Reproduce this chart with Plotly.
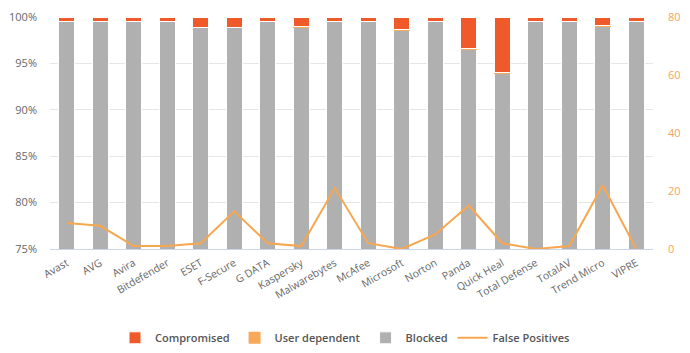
import plotly.graph_objects as go

vendors = ["Avast", "AVG", "Avira", "Bitdefender", "ESET", "F-Secure", "G DATA",
           "Kaspersky", "Malwarebytes", "McAfee", "Microsoft", "Norton", "Panda",
           "Quick Heal", "Total Defense", "TotalAV", "Trend Micro", "VIPRE"]
compromised = [0.5, 0.5, 0.5, 0.5, 1.1, 1.1, 0.5, 1.0, 0.5, 0.5, 1.4, 0.5, 3.4,
               6.0, 0.5, 0.5, 0.9, 0.5]
user_dependent = [0.0, 0.0, 0.0, 0.0, 0.0, 0.0, 0.0, 0.1, 0.0, 0.0, 0.1, 0.0, 0.1,
                  0.1, 0.0, 0.0, 0.1, 0.0]
blocked = [99.5, 99.5, 99.5, 99.5, 98.9, 98.9, 99.5, 98.9, 99.5, 99.5, 98.5, 99.5,
           96.5, 93.9, 99.5, 99.5, 99.0, 99.5]
false_positives = [9, 8, 1, 1, 2, 13, 2, 1, 21, 2, 0, 5, 15, 2, 0, 1, 22, 0]
left_ticks = [75, 80, 85, 90, 95, 100]
right_ticks = [0, 20, 40, 60, 80]

C_COMP = "#f05a2b"
C_USER = "#f7a85a"
C_BLOCK = "#b0b0b0"
C_LINE = "#f7a74f"

fig = go.Figure()
fig.add_trace(go.Bar(x=vendors, y=blocked, name="Blocked", marker_color=C_BLOCK,
                     marker_line=dict(color="white", width=1), legendrank=3))
fig.add_trace(go.Bar(x=vendors, y=user_dependent, name="User dependent", marker_color=C_USER,
                     marker_line=dict(color="white", width=0), legendrank=2))
fig.add_trace(go.Bar(x=vendors, y=compromised, name="Compromised", marker_color=C_COMP,
                     marker_line=dict(color="white", width=1), legendrank=1))
fig.add_trace(go.Scatter(x=vendors, y=false_positives, name="False Positives", yaxis="y2",
                         mode="lines", line=dict(color=C_LINE, width=2), cliponaxis=False,
                         legendrank=4))

fig.update_layout(
    width=690, height=353,
    margin=dict(l=43, r=32, t=9, b=104),
    barmode="stack", bargap=0.53,
    plot_bgcolor="white", paper_bgcolor="white",
    font=dict(family="Open Sans, DejaVu Sans, sans-serif", size=11, color="#666666"),
    xaxis=dict(showgrid=False, showline=True, linecolor="#ccd6eb", linewidth=1,
               tickangle=-30, tickfont=dict(size=10.5, color="#666666"), ticks="",
               ticklabelstandoff=3),
    yaxis=dict(range=[75, 100], tickvals=left_ticks, ticktext=[f"{v}%" for v in left_ticks],
               showgrid=True, gridcolor="#e6e6e6", gridwidth=1, zeroline=False,
               tickfont=dict(size=11, color="#666666"), ticklabelstandoff=12),
    yaxis2=dict(range=[0, 80], tickvals=right_ticks, overlaying="y", side="right",
                showgrid=False, zeroline=False, tickfont=dict(size=11, color="#f7a35c"),
                ticklabelstandoff=14),
    legend=dict(orientation="h", xref="container", yref="container", x=0.5, y=0.043,
                xanchor="center", yanchor="middle", traceorder="normal",
                font=dict(size=11, color="#555555", weight=600), itemwidth=30),
)

fig.write_html("out.html")
